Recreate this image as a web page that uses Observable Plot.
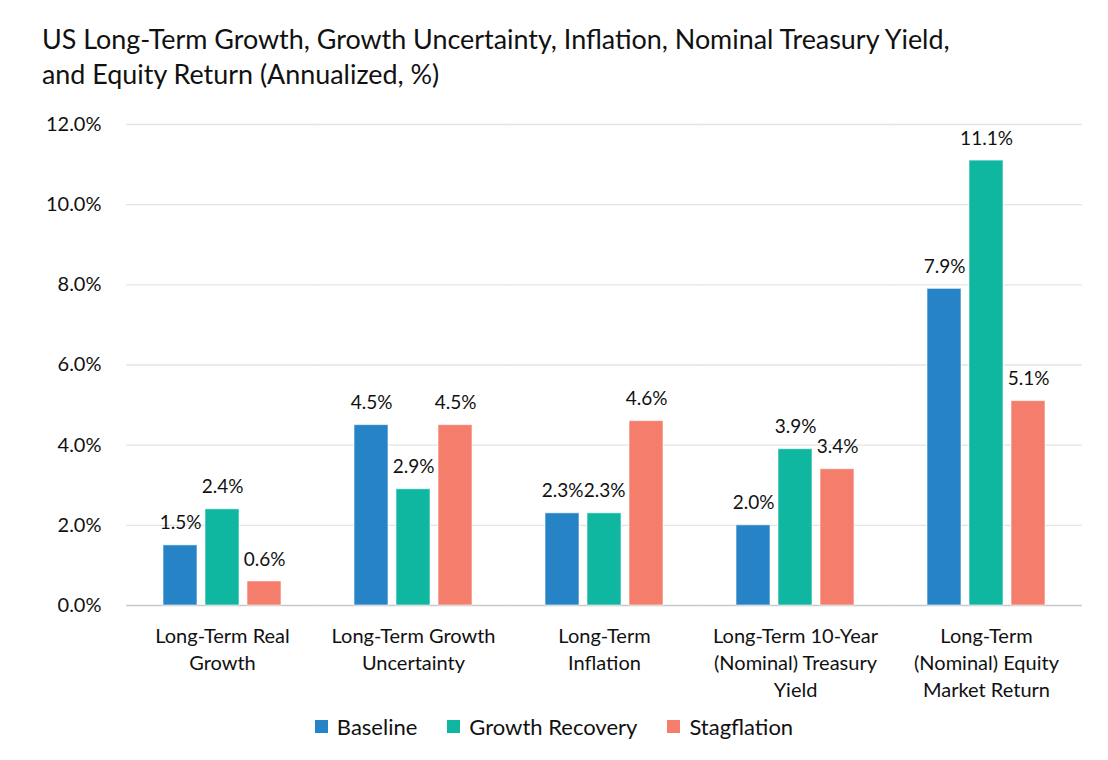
<!DOCTYPE html>
<html>
<head>
<meta charset="utf-8">
<script src="https://cdn.jsdelivr.net/npm/d3@7"></script>
<script src="https://cdn.jsdelivr.net/npm/@observablehq/plot@0.6"></script>
<style>
  html, body { margin: 0; padding: 0; background: #fff; }
  #wrap { position: relative; width: 1108px; height: 760px; font-family: Lato, "Open Sans", sans-serif; color: #111; }
  #title { position: absolute; left: 42px; top: 21px; font-size: 26.9px; line-height: 35px; white-space: nowrap; }
  #chart { position: absolute; left: 0; top: 100px; }
  #legend { position: absolute; left: 0; width: 1108px; top: 713px; display: flex; justify-content: center; align-items: center; gap: 30px; font-size: 22px; }
  .item { display: flex; align-items: center; gap: 9px; }
  .sw { width: 13px; height: 13px; display: inline-block; }
</style>
</head>
<body>
<div id="wrap">
  <div id="title">US Long-Term Growth, Growth Uncertainty, Inflation, Nominal Treasury Yield,<br>and Equity Return (Annualized, %)</div>
  <div id="chart"></div>
  <div id="legend"></div>
</div>
<script>
const categories = [
  "Long-Term Real\nGrowth",
  "Long-Term Growth\nUncertainty",
  "Long-Term\nInflation",
  "Long-Term 10-Year\n(Nominal) Treasury\nYield",
  "Long-Term\n(Nominal) Equity\nMarket Return"
];
const seriesNames = ["Baseline", "Growth Recovery", "Stagflation"];
const baseline = [1.5, 4.5, 2.3, 2.0, 7.9];
const growthRecovery = [2.4, 2.9, 2.3, 3.9, 11.1];
const stagflation = [0.6, 4.5, 4.6, 3.4, 5.1];
const colors = ["#2683C6", "#0FB7A1", "#F47E6B"];
const yTicks = [0, 2, 4, 6, 8, 10, 12];

const seriesValues = [baseline, growthRecovery, stagflation];
const rows = [];
categories.forEach((c, i) => {
  seriesNames.forEach((s, j) => rows.push({cat: c, series: s, value: seriesValues[j][i]}));
});

const W = 1108, mL = 125, mR = 25;
const nCat = categories.length;
const pInner = 0.384, pOuter = 0.192;
const step = (W - mL - mR) / (nCat - pInner + 2 * pOuter);
const half = step * pInner / 2;
const fmt = d => d.toFixed(1) + "%";

const chart = Plot.plot({
  width: W,
  height: 610,
  marginTop: 24,
  marginBottom: 105,
  marginLeft: mL,
  marginRight: mR,
  style: {fontFamily: "Lato, 'Open Sans', sans-serif", fontSize: "20px", color: "#111"},
  fx: {domain: categories, paddingInner: pInner, paddingOuter: pOuter, axis: null, label: null},
  x: {domain: seriesNames, paddingInner: 0.2, paddingOuter: 0, axis: null},
  y: {domain: [0, 12], axis: null, label: null},
  color: {domain: seriesNames, range: colors},
  marks: [
    Plot.ruleY(yTicks.filter(d => d > 0), {stroke: "#e4e4e4", strokeWidth: 1.3, insetLeft: -half, insetRight: -half}),
    Plot.ruleY([0], {stroke: "#c8c8c8", strokeWidth: 1.3, insetLeft: -half, insetRight: -half}),
    Plot.barY(rows, {fx: "cat", x: "series", y: "value", fill: "series", stroke: "#ffffff", strokeOpacity: 0.6, strokeWidth: 1}),
    Plot.text(rows, {fx: "cat", x: "series", y: "value", text: d => fmt(d.value), dy: -22, fontSize: 19, fill: "#111"}),
    Plot.axisY({ticks: yTicks, tickFormat: fmt, tickSize: 0, tickPadding: 62, fontSize: 20, fill: "#111", label: null}),
    Plot.axisFx({anchor: "bottom", label: null, tickSize: 0, tickPadding: 18, fontSize: 20, lineHeight: 1.35, fill: "#111"})
  ]
});
document.getElementById("chart").appendChild(chart);

const legend = document.getElementById("legend");
seriesNames.forEach((s, i) => {
  const item = document.createElement("div");
  item.className = "item";
  const sw = document.createElement("span");
  sw.className = "sw";
  sw.style.background = colors[i];
  const t = document.createElement("span");
  t.textContent = s;
  item.appendChild(sw);
  item.appendChild(t);
  legend.appendChild(item);
});
</script>
</body>
</html>
